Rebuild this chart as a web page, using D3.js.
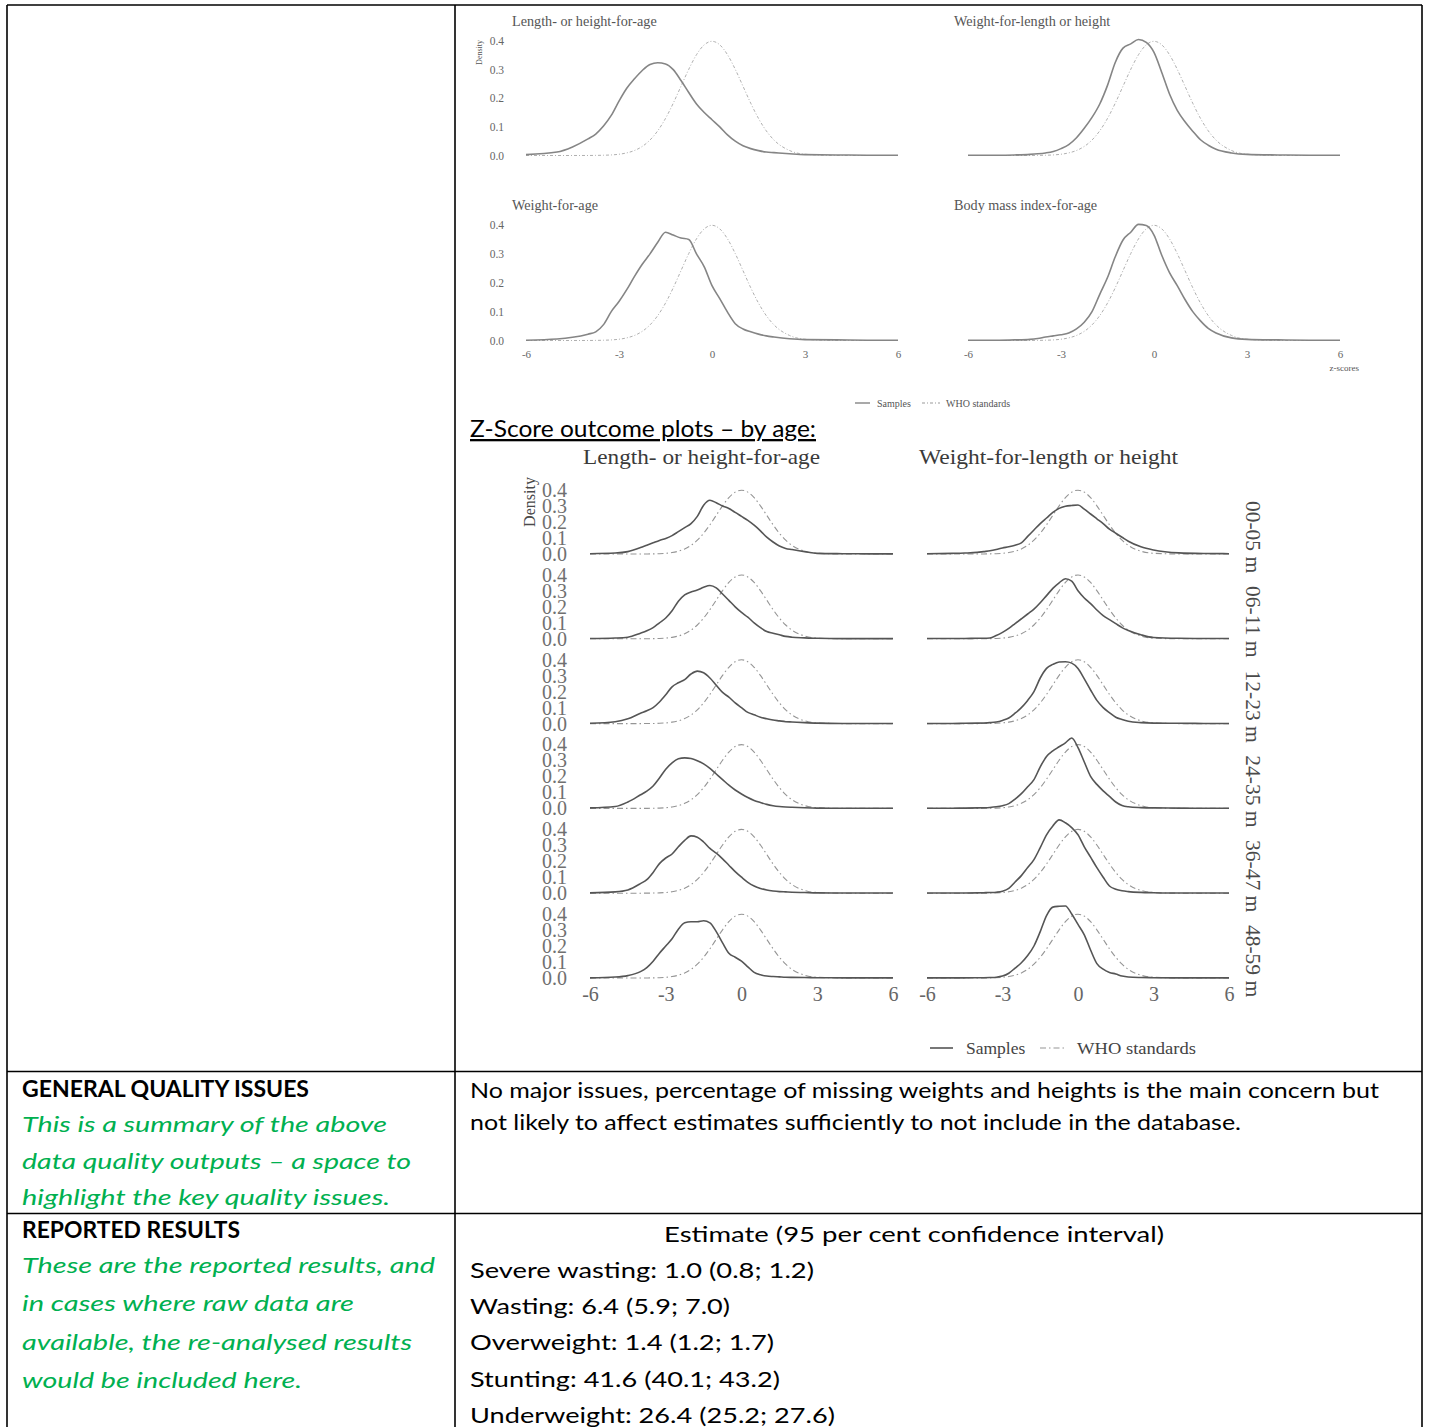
<!DOCTYPE html>
<meta charset="utf-8">
<script src="https://d3js.org/d3.v7.min.js"></script>
<style>
  body { margin: 0; background: #fff; }
</style>
<div id="page"></div>
<script>

// z-score grid shared by every density curve
var zGrid = [-6,-5,-4.5,-4,-3.75,-3.5,-3.25,-3,-2.75,-2.5,-2.25,-2,-1.75,-1.5,-1.25,-1,-0.75,-0.5,-0.25,0,0.25,0.5,0.75,1,1.25,1.5,1.75,2,2.5,3,4,5,6];

// WHO standards reference curve
var whoStandard = [0,0,0,0.0001,0.0004,0.0009,0.002,0.0044,0.0091,0.0175,0.0317,0.054,0.0863,0.1295,0.1826,0.242,0.3011,0.3521,0.3867,0.3989,0.3867,0.3521,0.3011,0.242,0.1826,0.1295,0.0863,0.054,0.0175,0.0044,0.0001,0,0];

// overall sample densities
var overallHaz = [0.003,0.012,0.03,0.058,0.075,0.103,0.14,0.19,0.235,0.268,0.297,0.318,0.324,0.32,0.3,0.262,0.22,0.18,0.15,0.125,0.1,0.072,0.05,0.034,0.024,0.017,0.012,0.01,0.006,0.003,0.002,0.001,0.001];
var overallWhz = [0.001,0.001,0.002,0.004,0.006,0.009,0.014,0.024,0.038,0.062,0.095,0.133,0.18,0.245,0.325,0.375,0.39,0.405,0.395,0.36,0.29,0.215,0.158,0.118,0.085,0.055,0.036,0.022,0.009,0.004,0.002,0.001,0.001];
var overallWaz = [0.001,0.005,0.011,0.022,0.03,0.055,0.1,0.135,0.176,0.222,0.264,0.3,0.34,0.375,0.365,0.355,0.35,0.3,0.255,0.19,0.145,0.098,0.058,0.04,0.03,0.022,0.016,0.012,0.006,0.003,0.002,0.001,0.001];
var overallBaz = [0.001,0.001,0.002,0.004,0.007,0.012,0.016,0.02,0.026,0.04,0.063,0.1,0.16,0.218,0.29,0.348,0.375,0.402,0.398,0.365,0.295,0.235,0.19,0.142,0.1,0.068,0.042,0.026,0.009,0.004,0.002,0.001,0.001];
var overallTitles = ["Length- or height-for-age", "Weight-for-length or height", "Weight-for-age", "Body mass index-for-age"];

// densities by age group
var ageGroups = ["00-05 m", "06-11 m", "12-23 m", "24-35 m", "36-47 m", "48-59 m"];
var hazByAge = [
  [0.002,0.006,0.015,0.04,0.055,0.07,0.085,0.097,0.115,0.14,0.165,0.19,0.235,0.305,0.336,0.32,0.3,0.284,0.26,0.235,0.21,0.18,0.145,0.105,0.075,0.05,0.035,0.028,0.015,0.004,0.002,0.001,0.001],
  [0.002,0.005,0.01,0.035,0.05,0.07,0.1,0.13,0.175,0.235,0.275,0.293,0.305,0.322,0.333,0.318,0.28,0.24,0.2,0.165,0.135,0.1,0.07,0.045,0.035,0.025,0.015,0.01,0.006,0.003,0.001,0.001,0.001],
  [0.002,0.012,0.03,0.065,0.08,0.1,0.135,0.18,0.23,0.255,0.275,0.31,0.328,0.318,0.285,0.24,0.195,0.165,0.13,0.1,0.07,0.055,0.04,0.03,0.022,0.017,0.012,0.01,0.006,0.003,0.001,0.001,0.001],
  [0.003,0.012,0.04,0.085,0.108,0.14,0.19,0.245,0.285,0.31,0.316,0.312,0.298,0.278,0.25,0.215,0.18,0.145,0.115,0.09,0.068,0.05,0.037,0.025,0.017,0.012,0.009,0.007,0.004,0.002,0.001,0.001,0.001],
  [0.002,0.008,0.02,0.06,0.085,0.13,0.185,0.22,0.245,0.29,0.33,0.358,0.35,0.32,0.28,0.25,0.215,0.175,0.135,0.1,0.068,0.045,0.03,0.02,0.014,0.01,0.008,0.006,0.004,0.002,0.001,0.001,0.001],
  [0.001,0.006,0.015,0.04,0.065,0.105,0.155,0.2,0.245,0.305,0.345,0.352,0.352,0.358,0.345,0.29,0.22,0.155,0.13,0.105,0.07,0.035,0.02,0.012,0.009,0.007,0.005,0.004,0.003,0.002,0.001,0.001,0.001]
];
var whzByAge = [
  [0.002,0.004,0.006,0.01,0.015,0.02,0.028,0.038,0.045,0.055,0.07,0.11,0.15,0.19,0.225,0.26,0.285,0.298,0.303,0.306,0.28,0.25,0.22,0.19,0.155,0.13,0.105,0.08,0.045,0.025,0.007,0.003,0.002],
  [0.002,0.002,0.002,0.003,0.003,0.005,0.02,0.04,0.065,0.095,0.125,0.155,0.185,0.225,0.27,0.315,0.35,0.375,0.36,0.3,0.255,0.22,0.18,0.145,0.12,0.095,0.07,0.052,0.025,0.008,0.003,0.002,0.002],
  [0.001,0.001,0.002,0.003,0.004,0.006,0.01,0.02,0.035,0.065,0.1,0.145,0.2,0.285,0.345,0.37,0.385,0.387,0.378,0.345,0.28,0.21,0.145,0.1,0.068,0.04,0.026,0.015,0.006,0.003,0.002,0.001,0.001],
  [0.001,0.001,0.002,0.003,0.004,0.006,0.01,0.017,0.03,0.058,0.092,0.135,0.18,0.26,0.325,0.36,0.385,0.41,0.44,0.38,0.29,0.2,0.15,0.11,0.075,0.04,0.018,0.01,0.005,0.003,0.002,0.001,0.001],
  [0.001,0.001,0.001,0.002,0.003,0.004,0.006,0.012,0.03,0.07,0.11,0.16,0.21,0.285,0.365,0.42,0.458,0.44,0.41,0.365,0.29,0.225,0.16,0.1,0.045,0.025,0.015,0.01,0.005,0.003,0.001,0.001,0.001],
  [0.001,0.001,0.001,0.002,0.002,0.003,0.005,0.012,0.03,0.062,0.095,0.14,0.2,0.29,0.39,0.443,0.448,0.45,0.4,0.335,0.27,0.175,0.09,0.055,0.035,0.025,0.012,0.006,0.003,0.002,0.001,0.001,0.001]
];

// axis ticks
var zTicks = [-6, -3, 0, 3, 6];
var densityTicks = [0, 0.1, 0.2, 0.3, 0.4];

// table text
var qualityLabel = "GENERAL QUALITY ISSUES";
var qualityNote = ["This is a summary of the above", "data quality outputs \u2013 a space to", "highlight the key quality issues."];
var qualityText = ["No major issues, percentage of missing weights and heights is the main concern but",
                   "not likely to affect estimates sufficiently to not include in the database."];
var resultsLabel = "REPORTED RESULTS";
var resultsNote = ["These are the reported results, and", "in cases where raw data are", "available, the re-analysed results", "would be included here."];
var resultsHeader = "Estimate (95 per cent confidence interval)";
var indicators = ["Severe wasting", "Wasting", "Overweight", "Stunting", "Underweight"];
var estimates = [1.0, 6.4, 1.4, 41.6, 26.4];
var ciLow = [0.8, 5.9, 1.2, 40.1, 25.2];
var ciHigh = [1.2, 7.0, 1.7, 43.2, 27.6];

var serif = "'Liberation Serif', 'Times New Roman', serif";
var sans = "Lato, 'Open Sans', sans-serif";
var green = "#00b050";
var zLabel = function(d) { return String(d); };   // plain hyphen minus, as in the source figure

var svg = d3.select("#page")
  .append("svg")
    .attr("width", 1429)
    .attr("height", 1427);

// ---------- table frame ----------
var frame = svg.append("g").attr("stroke", "#000").attr("stroke-width", 1.6);
[[7, 5, 1422, 5], [7, 1071.5, 1422, 1071.5], [7, 1213.5, 1422, 1213.5],
 [7, 5, 7, 1427], [455, 5, 455, 1427], [1422, 5, 1422, 1427]].forEach(function(l) {
  frame.append("line").attr("x1", l[0]).attr("y1", l[1]).attr("x2", l[2]).attr("y2", l[3]);
});

// helper: one density panel (WHO dash-dot under sample solid line)
function drawCurves(g, x, y, samples, style) {
  var line = d3.line()
    .x(function(d, i) { return x(zGrid[i]); })
    .y(function(d) { return y(d); })
    .curve(d3.curveMonotoneX);
  g.append("path").datum(whoStandard)
    .attr("d", line).attr("fill", "none")
    .attr("stroke", style.who).attr("stroke-width", style.whoWidth)
    .attr("stroke-dasharray", style.dash);
  g.append("path").datum(samples)
    .attr("d", line).attr("fill", "none")
    .attr("stroke", style.sample).attr("stroke-width", style.sampleWidth)
    .attr("stroke-linejoin", "round");
}

function styleAxis(sel, size, color) {
  sel.select(".domain").remove();
  sel.selectAll("text").attr("font-family", serif).attr("font-size", size).attr("fill", color);
}

// ---------- overall z-score plots ----------
var topFig = svg.append("g");
var topStyle = {who: "#b0b0b0", whoWidth: 1, dash: "3,2,1,2", sample: "#858585", sampleWidth: 1.6};
var topX = [d3.scaleLinear().domain([-6, 6]).range([526, 898]),
            d3.scaleLinear().domain([-6, 6]).range([968, 1340])];
var topY = [d3.scaleLinear().domain([0, 0.4]).range([155.5, 41]),
            d3.scaleLinear().domain([0, 0.4]).range([340.5, 225])];
var overallSeries = [overallHaz, overallWhz, overallWaz, overallBaz];

overallSeries.forEach(function(s, k) {
  var col = k % 2, row = Math.floor(k / 2);
  var x = topX[col], y = topY[row];
  topFig.append("text")
    .attr("x", x(-6) - 14).attr("y", y(0.4) - 15)
    .attr("font-family", serif).attr("font-size", 14.2).attr("fill", "#555")
    .text(overallTitles[k]);
  drawCurves(topFig, x, y, s, topStyle);
  if (col === 0) {
    topFig.append("g")
      .attr("transform", "translate(" + (x(-6) - 20) + ",0)")
      .call(d3.axisLeft(y).tickValues(densityTicks).tickFormat(d3.format(".1f")).tickSize(0).tickPadding(2))
      .call(styleAxis, 11.5, "#666");
  }
  if (row === 1) {
    topFig.append("g")
      .attr("transform", "translate(0," + (y(0) + 5) + ")")
      .call(d3.axisBottom(x).tickValues(zTicks).tickFormat(zLabel).tickSize(0).tickPadding(5))
      .call(styleAxis, 11, "#666");
  }
});

topFig.append("text")
  .attr("transform", "translate(482," + topY[0](0.36) + ") rotate(-90)")
  .attr("text-anchor", "middle")
  .attr("font-family", serif).attr("font-size", 8).attr("fill", "#555")
  .text("Density");
topFig.append("text")
  .attr("x", topX[1](6) + 19).attr("y", 371)
  .attr("text-anchor", "end")
  .attr("font-family", serif).attr("font-size", 9).attr("fill", "#555")
  .text("z-scores");

var topLegend = topFig.append("g").attr("font-family", serif).attr("font-size", 10).attr("fill", "#555");
topLegend.append("line").attr("x1", 855).attr("x2", 870).attr("y1", 403).attr("y2", 403)
  .attr("stroke", topStyle.sample).attr("stroke-width", 1.4);
topLegend.append("text").attr("x", 877).attr("y", 406.5).text("Samples");
topLegend.append("line").attr("x1", 922).attr("x2", 940).attr("y1", 403).attr("y2", 403)
  .attr("stroke", "#999").attr("stroke-width", 1).attr("stroke-dasharray", topStyle.dash);
topLegend.append("text").attr("x", 946).attr("y", 406.5).text("WHO standards");

// ---------- z-score plots by age ----------
svg.append("text")
  .attr("x", 470).attr("y", 437)
  .attr("font-family", sans).attr("font-size", 23)
  .attr("textLength", 346).attr("lengthAdjust", "spacingAndGlyphs")
  .attr("text-decoration", "underline")
  .text("Z-Score outcome plots \u2013 by age:");

var ageFig = svg.append("g");
var ageStyle = {who: "#959595", whoWidth: 1.1, dash: "6,3,1.5,3", sample: "#555", sampleWidth: 1.6};
var ageX = [d3.scaleLinear().domain([-6, 6]).range([590, 893]),
            d3.scaleLinear().domain([-6, 6]).range([927, 1229])];
var rowBase = d3.scaleLinear().domain([0, 5]).range([554, 978]);
var ageTitles = [overallTitles[0], overallTitles[1]];
var titleStart = [583, 919];
var titleWidths = [237, 259];

ageTitles.forEach(function(t, c) {
  ageFig.append("text")
    .attr("x", titleStart[c]).attr("y", 464)
    .attr("font-family", serif).attr("font-size", 21).attr("fill", "#3a3a3a")
    .attr("textLength", titleWidths[c]).attr("lengthAdjust", "spacingAndGlyphs")
    .text(t);
});

ageGroups.forEach(function(grp, r) {
  var y0 = rowBase(r);
  var y = d3.scaleLinear().domain([0, 0.4]).range([y0, y0 - 64]);
  drawCurves(ageFig, ageX[0], y, hazByAge[r], ageStyle);
  drawCurves(ageFig, ageX[1], y, whzByAge[r], ageStyle);
  ageFig.append("g")
    .attr("transform", "translate(" + (ageX[0](-6) - 21) + ",0)")
    .call(d3.axisLeft(y).tickValues(densityTicks).tickFormat(d3.format(".1f")).tickSize(0).tickPadding(2))
    .call(styleAxis, 20, "#707070");
  ageFig.append("text")
    .attr("transform", "translate(1246," + (y0 - 17) + ") rotate(90)")
    .attr("text-anchor", "middle")
    .attr("font-family", serif).attr("font-size", 21.5).attr("fill", "#4a4a4a")
    .text(grp);
});

ageX.forEach(function(x) {
  ageFig.append("g")
    .attr("transform", "translate(0," + (rowBase(5) + 6) + ")")
    .call(d3.axisBottom(x).tickValues(zTicks).tickFormat(zLabel).tickSize(0).tickPadding(3))
    .call(styleAxis, 20, "#666");
});

ageFig.append("text")
  .attr("transform", "translate(535," + 502 + ") rotate(-90)")
  .attr("text-anchor", "middle")
  .attr("font-family", serif).attr("font-size", 16).attr("fill", "#4a4a4a")
  .text("Density");

var ageLegend = ageFig.append("g").attr("font-family", serif).attr("font-size", 17.5).attr("fill", "#444");
ageLegend.append("line").attr("x1", 930).attr("x2", 953).attr("y1", 1048).attr("y2", 1048)
  .attr("stroke", ageStyle.sample).attr("stroke-width", 1.6);
ageLegend.append("text").attr("x", 966).attr("y", 1054).text("Samples");
ageLegend.append("line").attr("x1", 1040).attr("x2", 1066).attr("y1", 1048).attr("y2", 1048)
  .attr("stroke", ageStyle.who).attr("stroke-width", 1.1).attr("stroke-dasharray", ageStyle.dash);
ageLegend.append("text").attr("x", 1077).attr("y", 1054)
  .attr("textLength", 119).attr("lengthAdjust", "spacingAndGlyphs")
  .text("WHO standards");

// ---------- table text rows ----------
var txt = svg.append("g").attr("font-family", sans).attr("font-size", 22);

function putLine(x, y, s, w, opts) {
  var t = txt.append("text").attr("x", x).attr("y", y).text(s)
    .attr("textLength", w).attr("lengthAdjust", "spacingAndGlyphs");
  if (opts && opts.bold) t.attr("font-weight", "bold");
  if (opts && opts.italic) t.attr("font-style", "italic").attr("fill", green);
  return t;
}

putLine(22, 1097, qualityLabel, 287, {bold: true});
var qualityNoteW = [365, 389, 368];
qualityNote.forEach(function(s, i) { putLine(22, 1132 + i * 36.5, s, qualityNoteW[i], {italic: true}); });
var qualityTextW = [909, 771];
qualityText.forEach(function(s, i) { putLine(470, 1098 + i * 32, s, qualityTextW[i]); });

putLine(22, 1238, resultsLabel, 218, {bold: true});
var resultsNoteW = [413, 332, 390, 280];
resultsNote.forEach(function(s, i) { putLine(22, 1273 + i * 38.3, s, resultsNoteW[i], {italic: true}); });

putLine(664, 1242, resultsHeader, 500);
var fmt = d3.format(".1f");
var resultW = [344, 260, 304, 310, 365];
indicators.forEach(function(name, i) {
  var s = name + ": " + fmt(estimates[i]) + " (" + fmt(ciLow[i]) + "; " + fmt(ciHigh[i]) + ")";
  putLine(470, 1278 + i * 36.2, s, resultW[i]);
});

</script>
